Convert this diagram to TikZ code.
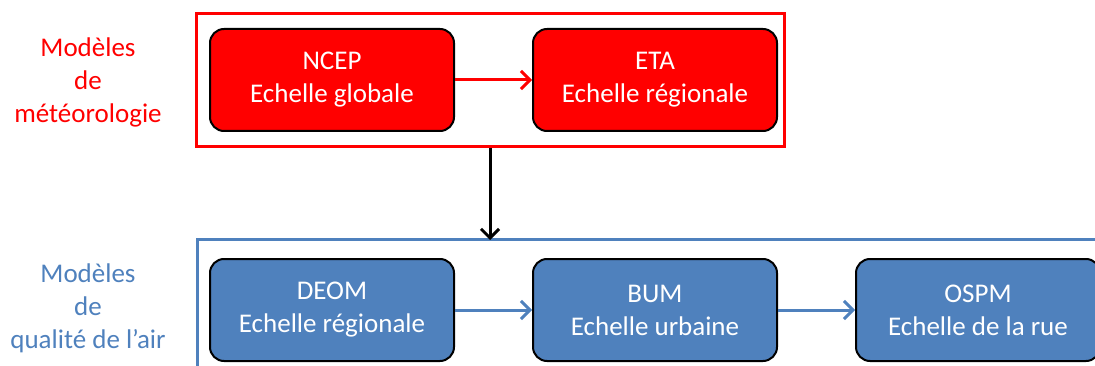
\documentclass[tikz,border=0pt]{standalone}
\usepackage{fontspec}
\setmainfont{Carlito}
\usetikzlibrary{positioning,arrows.meta}
\definecolor{meteored}{HTML}{FF0000}
\definecolor{airblue}{HTML}{4F81BD}
\begin{document}
\begin{tikzpicture}[
  x=1pt,
  y=-1pt,
  every node/.style={font=\fontsize{27}{33}\selectfont},
  model/.style={draw=black, line width=2pt, rounded corners=14pt,
    minimum width=244pt, minimum height=102pt, align=center,
    text=white, inner sep=0pt},
  meteobox/.style={model, fill=meteored},
  airbox/.style={model, fill=airblue},
  groupframe/.style={line width=3pt},
  flow/.style={-{Straight Barb[length=9pt, width=18pt, line width=3pt]}, line width=3pt},
  caption/.style={align=center}
]
  \useasboundingbox (0,0) rectangle (1095,366);

  % meteorology chain
  \node[meteobox] (ncep) at (332,80) {NCEP\\Echelle globale};
  \node[meteobox, right=77pt of ncep] (eta) {ETA\\Echelle régionale};
  \node[draw=meteored, groupframe, minimum width=588pt, minimum height=133pt,
    inner sep=0pt] (meteo) at (490,80.5) {};

  % air quality chain
  \node[airbox, below=126pt of ncep] (deom) {DEOM\\Echelle régionale};
  \node[airbox, right=77pt of deom] (bum) {BUM\\Echelle urbaine};
  \node[airbox, right=77pt of bum] (ospm) {OSPM\\Echelle de la rue};

  \begin{scope}
    \clip (0,0) rectangle (1095,366);
    \draw[draw=airblue, groupframe] (1100,240) -| (197,372);
  \end{scope}
  \coordinate (airtop) at (490,240);

  % connectors
  \draw[flow, meteored] (ncep) -- (eta);
  \draw[flow, black] (meteo.south -| airtop) -- (airtop);
  \draw[flow, airblue] (deom) -- (bum);
  \draw[flow, airblue] (bum) -- (ospm);

  \node[caption, text=meteored] (meteolabel) at (88,82) {Modèles\\de\\météorologie};
  \node[caption, text=airblue] (airlabel) at (88,308) {Modèles\\de\\qualité de l’air};
\end{tikzpicture}
\end{document}
